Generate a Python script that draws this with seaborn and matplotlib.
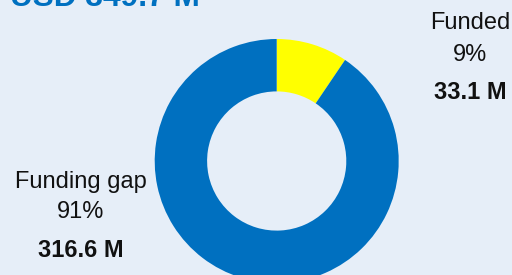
import matplotlib
matplotlib.use("Agg")
import matplotlib.pyplot as plt
import seaborn as sns

labels = ["Funded", "Funding gap"]
values = [33.1, 316.6]
pct_labels = ["9%", "91%"]
amount_labels = ["33.1 M", "316.6 M"]
title_text = "USD 349.7 M"

sns.set_theme(style="white")
plt.rcParams["font.family"] = ["Liberation Sans", "DejaVu Sans"]

bg = "#E6EEF8"
colors = ["#FFFF00", "#0070C0"]

fig = plt.figure(figsize=(5.12, 2.75), dpi=100, facecolor=bg)
ax = fig.add_axes([0, 0, 1, 1])
ax.set_facecolor(bg)

H = 275
cx, cy, r = 276.7, H - 161, 122
ax.pie(values, colors=colors, startangle=90, counterclock=False,
       center=(cx, cy), radius=r,
       wedgeprops=dict(width=r - 69.6, linewidth=0))
ax.set_xlim(0, 512)
ax.set_ylim(0, H)
ax.set_aspect("equal")
ax.axis("off")

fs = 17
# Funded labels
ax.text(470, H - 29, labels[0], ha="center", va="baseline", fontsize=fs, color="#111111")
ax.text(470, H - 60.7, pct_labels[0], ha="center", va="baseline", fontsize=fs, color="#111111")
ax.text(470, H - 99, amount_labels[0], ha="center", va="baseline", fontsize=fs,
        fontweight="bold", color="#111111")
# Funding gap labels
ax.text(81, H - 187.7, labels[1], ha="center", va="baseline", fontsize=fs, color="#111111")
ax.text(81, H - 218.3, pct_labels[1], ha="center", va="baseline", fontsize=fs, color="#111111")
ax.text(81, H - 256.7, amount_labels[1], ha="center", va="baseline", fontsize=fs,
        fontweight="bold", color="#111111")

# Title (cut off at top, as in the reference)
ax.text(10, H - 5.5, title_text, ha="left", va="baseline", fontsize=22.8,
        fontweight="bold", color="#0070C0")

fig.savefig("out.png", dpi=100, facecolor=bg)
